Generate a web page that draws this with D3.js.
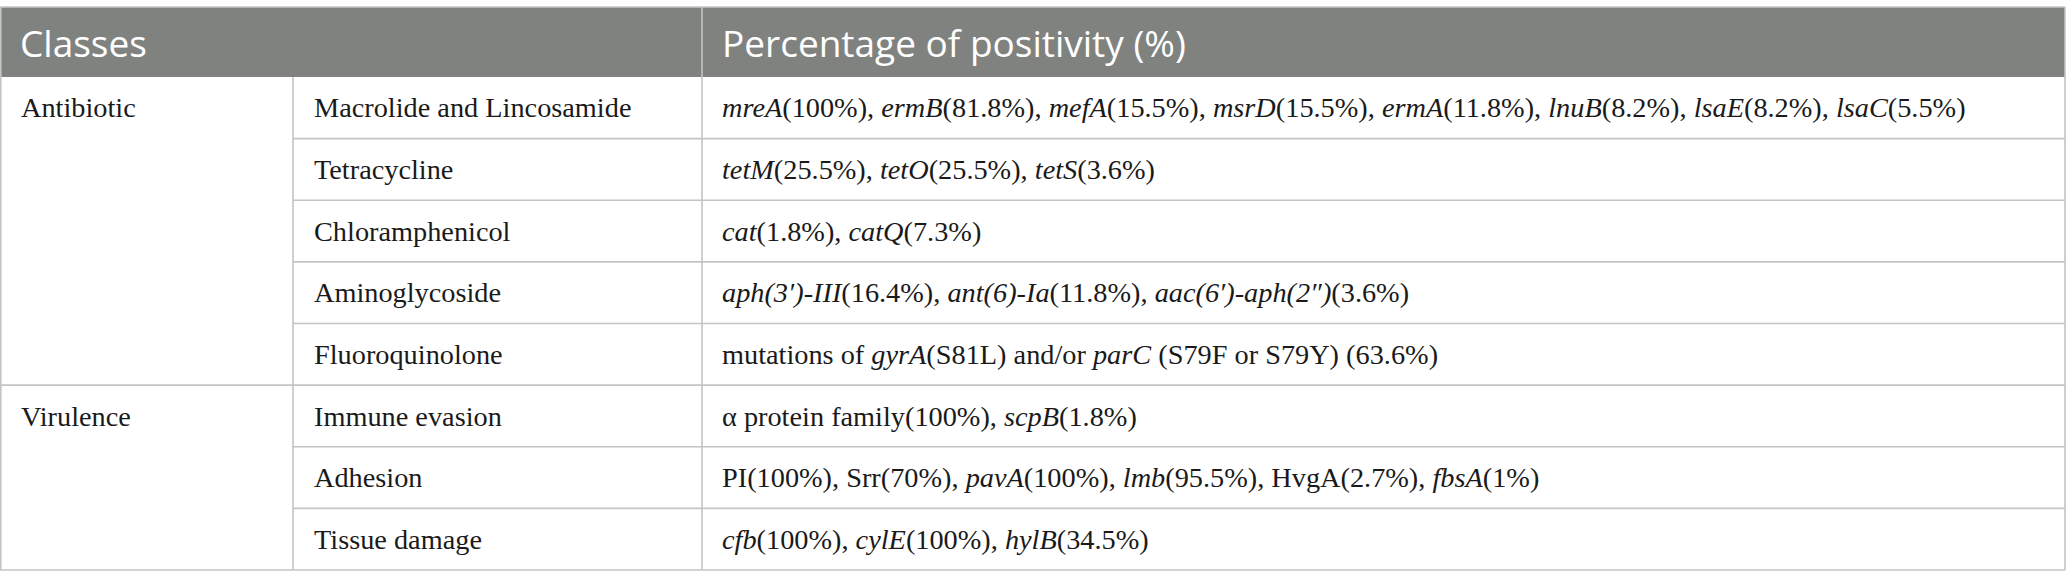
<!DOCTYPE html>
<html>
<head>
<meta charset="utf-8">
<script src="https://cdn.jsdelivr.net/npm/d3@7"></script>
<style>
  html, body { margin: 0; padding: 0; background: #fff; }
  svg { display: block; }
</style>
</head>
<body>
<svg id="chart"></svg>
<script>
// table content, *...* marks italic runs
const headers = ['Classes', 'Percentage of positivity (%)'];
const classes = ['Antibiotic', 'Virulence'];
const classSpan = [5, 3];
const categories = [
  'Macrolide and Lincosamide',
  'Tetracycline',
  'Chloramphenicol',
  'Aminoglycoside',
  'Fluoroquinolone',
  'Immune evasion',
  'Adhesion',
  'Tissue damage'
];
const positivity = [
  '*mreA*(100%), *ermB*(81.8%), *mefA*(15.5%), *msrD*(15.5%), *ermA*(11.8%), *lnuB*(8.2%), *lsaE*(8.2%), *lsaC*(5.5%)',
  '*tetM*(25.5%), *tetO*(25.5%), *tetS*(3.6%)',
  '*cat*(1.8%), *catQ*(7.3%)',
  '*aph(3′)-III*(16.4%), *ant(6)-Ia*(11.8%), *aac(6′)-aph(2″)*(3.6%)',
  'mutations of *gyrA*(S81L) and/or *parC* (S79F or S79Y) (63.6%)',
  'α protein family(100%), *scpB*(1.8%)',
  'PI(100%), Srr(70%), *pavA*(100%), *lmb*(95.5%), HvgA(2.7%), *fbsA*(1%)',
  '*cfb*(100%), *cylE*(100%), *hylB*(34.5%)'
];

const option = {
  width: 2067,
  height: 588,
  table: { x0: 0, x1: 2065, top: 7, head: 70, bottom: 570 },
  column: [0, 293, 702],
  pad: 21,
  line: { color: '#c4c4c4', width: 1.6 },
  head: { color: '#808280', font: 'Open Sans', size: 37, fill: '#ffffff' },
  body: { font: 'Liberation Serif', size: 28.3, fill: '#1a1a1a' }
};

const svg = d3.select('#chart')
  .attr('width', option.width)
  .attr('height', option.height);

const t = option.table;
const bodyTop = t.top + t.head;

const y = d3.scaleBand()
  .domain(d3.range(categories.length))
  .range([bodyTop, t.bottom])
  .paddingInner(0)
  .paddingOuter(0);

// header
svg.append('rect')
  .attr('x', t.x0).attr('y', t.top)
  .attr('width', t.x1 - t.x0).attr('height', t.head)
  .attr('fill', option.head.color);

svg.selectAll('text.head')
  .data(headers)
  .join('text')
  .attr('class', 'head')
  .attr('x', (d, i) => (i === 0 ? option.column[0] : option.column[2]) + option.pad - 1)
  .attr('y', t.top + t.head / 2 + option.head.size * 0.4)
  .attr('font-family', option.head.font)
  .attr('font-size', option.head.size)
  .attr('fill', option.head.fill)
  .text(d => d);

// first rows of each class group
const groupStart = classSpan.map((s, i) => d3.sum(classSpan.slice(0, i)));

// grid lines
const lines = svg.append('g')
  .attr('stroke', option.line.color)
  .attr('stroke-width', option.line.width)
  .attr('fill', 'none');

lines.append('line')
  .attr('x1', t.x0).attr('x2', t.x1)
  .attr('y1', t.top).attr('y2', t.top);

lines.append('line')
  .attr('x1', option.column[2]).attr('x2', option.column[2])
  .attr('y1', t.top).attr('y2', t.bottom);

lines.append('line')
  .attr('x1', option.column[1]).attr('x2', option.column[1])
  .attr('y1', bodyTop).attr('y2', t.bottom);

lines.append('line')
  .attr('x1', t.x0 + 0.8).attr('x2', t.x0 + 0.8)
  .attr('y1', t.top).attr('y2', t.bottom);

lines.append('line')
  .attr('x1', t.x1).attr('x2', t.x1)
  .attr('y1', t.top).attr('y2', t.bottom);

lines.selectAll('line.row')
  .data(d3.range(1, categories.length))
  .join('line')
  .attr('class', 'row')
  .attr('x1', i => groupStart.includes(i) ? t.x0 : option.column[1])
  .attr('x2', t.x1)
  .attr('y1', i => y(i)).attr('y2', i => y(i));

lines.append('line')
  .attr('x1', t.x0).attr('x2', t.x1)
  .attr('y1', t.bottom).attr('y2', t.bottom);

const baseline = i => y(i) + y.bandwidth() / 2 + option.body.size * 0.34;

const bodyText = svg.append('g')
  .attr('font-family', option.body.font)
  .attr('font-size', option.body.size)
  .attr('fill', option.body.fill);

bodyText.selectAll('text.class')
  .data(classes)
  .join('text')
  .attr('class', 'class')
  .attr('x', option.column[0] + option.pad)
  .attr('y', (d, i) => baseline(groupStart[i]))
  .text(d => d);

bodyText.selectAll('text.cat')
  .data(categories)
  .join('text')
  .attr('class', 'cat')
  .attr('x', option.column[1] + option.pad)
  .attr('y', (d, i) => baseline(i))
  .text(d => d);

const parse = s => s.split('*').map((txt, k) => ({ txt, italic: k % 2 === 1 })).filter(p => p.txt.length);

bodyText.selectAll('text.pos')
  .data(positivity)
  .join('text')
  .attr('class', 'pos')
  .attr('x', option.column[2] + option.pad - 1)
  .attr('y', (d, i) => baseline(i))
  .selectAll('tspan')
  .data(d => parse(d))
  .join('tspan')
  .attr('font-style', p => p.italic ? 'italic' : null)
  .text(p => p.txt);
</script>
</body>
</html>
